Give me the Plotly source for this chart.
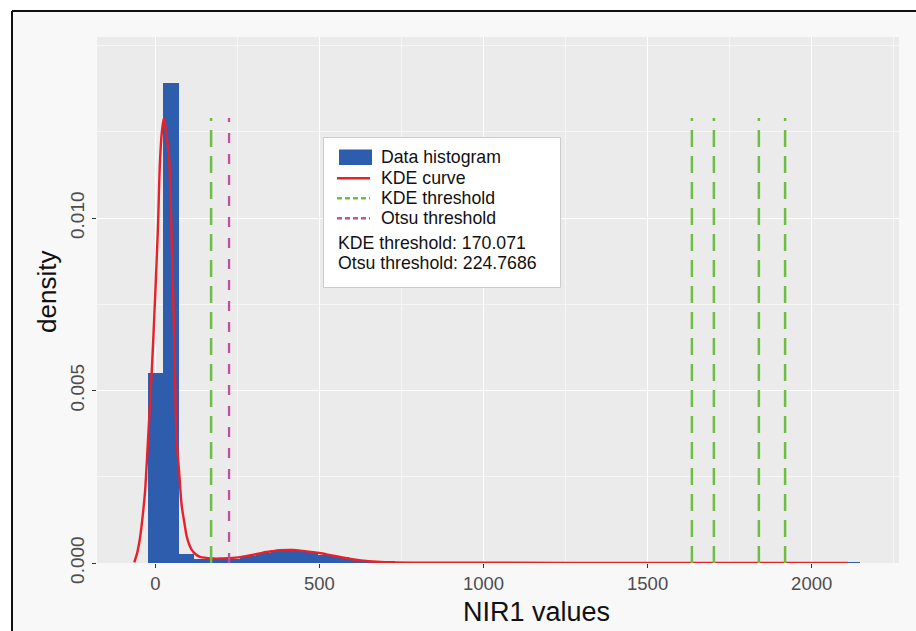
import numpy as np
import plotly.graph_objects as go

# ---------------- data ----------------
bin_width = 47.2
hist_density = [
    0.0055, 0.01393, 0.00027, 0.00013, 0.00011, 0.00013, 0.00019, 0.00028,
    0.00035, 0.00037, 0.00032, 0.00024, 0.00016, 0.00009, 0.00005, 0.00003,
    0.00002, 0.000016, 0.000013, 0.000011, 0.00001, 0.00001, 0.00001, 0.00001,
    0.00001, 0.00001, 0.00001, 0.00001, 0.00001, 0.00001, 0.00001, 0.00001,
    0.00001, 0.00001, 0.00001, 0.00001, 0.00001, 0.00001, 0.00001, 0.00001,
    0.00001, 0.00001, 0.00001, 0.00001, 0.00001, 0.00001,
]
bin_centers = [i * bin_width for i in range(len(hist_density))]

kde_x = [-64, -55, -46, -38, -31, -22, -10, -1, 8, 14, 20, 26, 32, 38, 43, 49, 55,
         60, 65, 73, 80, 88, 96, 104, 111, 122, 136, 155, 176, 200, 220, 259, 300,
         328, 355, 380, 420, 450, 500, 533, 570, 600, 650, 700, 800, 1000, 1500, 2000, 2110]
kde_y = [0.00002, 0.0003, 0.00076, 0.0014, 0.0021, 0.0036, 0.0057, 0.0076, 0.0097,
         0.01158, 0.0125, 0.0129, 0.0126, 0.0121, 0.0116, 0.0097, 0.0076,
         0.0055, 0.0036, 0.0026, 0.0017, 0.0012, 0.00076, 0.00052, 0.00038, 0.00026,
         0.00018, 0.00015, 0.00013, 0.00013, 0.00014, 0.00017, 0.00024,
         0.0003, 0.00034, 0.00037, 0.00038, 0.00035, 0.00029, 0.00023, 0.00016,
         0.00011, 0.00005, 0.00002, 0.00001, 0.000006, 0.000004, 0.000003, 0.000002]

kde_thresholds = [170.071, 1635, 1702, 1839, 1919]
otsu_threshold = 224.7686
line_top = 0.0129

x_range = [-177.6, 2266]
y_range = [0, 0.01525]
x_ticks = [0, 500, 1000, 1500, 2000]
y_ticks = [0.000, 0.005, 0.010]

legend_labels = ["Data histogram", "KDE curve", "KDE threshold", "Otsu threshold"]
info_lines = ["KDE threshold: 170.071", "Otsu threshold: 224.7686"]

# ---------------- styles ----------------
BLUE = "#2D5DAC"
RED = "#E8202A"
GREEN = "#6CBE45"
PURPLE = "#C2509C"
FONT = "Liberation Sans, Arial, sans-serif"

W, H = 916, 631
L, R, T, B = 97, 17, 37, 68
PW, PH = W - L - R, H - T - B


def px(xp):
    return (xp - L) / PW


def py(yp):
    return (H - B - yp) / PH


fig = go.Figure()

fig.add_trace(go.Bar(
    x=bin_centers, y=hist_density, width=bin_width,
    marker=dict(color=BLUE, line=dict(width=0)), showlegend=False,
))

fig.add_trace(go.Scatter(
    x=kde_x, y=kde_y, mode="lines", line=dict(color=RED, width=2.4, shape="spline", smoothing=0.8),
    showlegend=False,
))

for t in kde_thresholds:
    fig.add_trace(go.Scatter(
        x=[t, t], y=[0, line_top], mode="lines",
        line=dict(color=GREEN, width=2.5, dash="17px,9px"), showlegend=False,
    ))
fig.add_trace(go.Scatter(
    x=[otsu_threshold, otsu_threshold], y=[0, line_top], mode="lines",
    line=dict(color=PURPLE, width=2.3, dash="10px,11px"), showlegend=False,
))

shapes = []
annotations = []

# outer white strips and black frame
shapes.append(dict(type="rect", xref="paper", yref="paper", x0=px(-5), x1=px(12), y0=py(640), y1=py(-5),
                   fillcolor="white", line=dict(width=0), layer="below"))
shapes.append(dict(type="rect", xref="paper", yref="paper", x0=px(-5), x1=px(925), y0=py(11), y1=py(-5),
                   fillcolor="white", line=dict(width=0), layer="below"))
shapes.append(dict(type="line", xref="paper", yref="paper", x0=px(12), x1=px(925), y0=py(11), y1=py(11),
                   line=dict(color="#111111", width=2)))
shapes.append(dict(type="line", xref="paper", yref="paper", x0=px(12), x1=px(12), y0=py(11), y1=py(640),
                   line=dict(color="#111111", width=2)))

# legend box
shapes.append(dict(type="rect", xref="paper", yref="paper", x0=px(323.5), x1=px(560.5), y0=py(287.5), y1=py(137.5),
                   fillcolor="white", line=dict(color="#CCCCCC", width=1)))
# legend keys
shapes.append(dict(type="rect", xref="paper", yref="paper", x0=px(339), x1=px(372), y0=py(165), y1=py(149.5),
                   fillcolor=BLUE, line=dict(width=0)))
shapes.append(dict(type="line", xref="paper", yref="paper", x0=px(337), x1=px(370), y0=py(178.3), y1=py(178.3),
                   line=dict(color=RED, width=2.5)))
shapes.append(dict(type="line", xref="paper", yref="paper", x0=px(337), x1=px(370), y0=py(198.3), y1=py(198.3),
                   line=dict(color=GREEN, width=2.5, dash="5px,3px")))
shapes.append(dict(type="line", xref="paper", yref="paper", x0=px(337), x1=px(370), y0=py(218.3), y1=py(218.3),
                   line=dict(color=PURPLE, width=2.5, dash="5px,3px")))

for lab, yc in zip(legend_labels, [157, 178.3, 198.3, 218.3]):
    annotations.append(dict(text=lab, xref="paper", yref="paper", x=px(379), y=py(yc),
                            xanchor="left", yanchor="middle", showarrow=False,
                            font=dict(family=FONT, size=17.7, color="#111111")))
for lab, yc in zip(info_lines, [242.7, 263.3]):
    annotations.append(dict(text=lab, xref="paper", yref="paper", x=px(335.5), y=py(yc),
                            xanchor="left", yanchor="middle", showarrow=False,
                            font=dict(family=FONT, size=17.7, color="#111111")))

# axis titles
annotations.append(dict(text="NIR1 values", xref="paper", yref="paper", x=px(536), y=py(612),
                        xanchor="center", yanchor="middle", showarrow=False,
                        font=dict(family=FONT, size=27, color="#111111")))
annotations.append(dict(text="density", xref="paper", yref="paper", x=px(47), y=py(292),
                        xanchor="center", yanchor="middle", showarrow=False, textangle=-90,
                        font=dict(family=FONT, size=26, color="#111111")))

fig.update_layout(
    width=W, height=H,
    margin=dict(l=L, r=R, t=T, b=B, pad=0),
    paper_bgcolor="#F8F8F8",
    plot_bgcolor="#EBEBEB",
    shapes=shapes,
    annotations=annotations,
    bargap=0,
    showlegend=False,
)

fig.update_xaxes(
    range=x_range, tickvals=x_ticks, ticktext=[str(v) for v in x_ticks],
    showgrid=True, gridcolor="white", gridwidth=1.2,
    minor=dict(dtick=250, tick0=0, showgrid=True, gridcolor="#F6F6F6", gridwidth=0.6, ticks=""),
    ticks="outside", ticklen=4, tickcolor="#333333", tickwidth=1,
    tickfont=dict(family=FONT, size=18.5, color="#4D4D4D"),
    zeroline=False, showline=False,
)
fig.update_yaxes(
    range=y_range, tickvals=y_ticks, ticktext=[f"{v:.3f}" for v in y_ticks],
    tickangle=-90,
    showgrid=True, gridcolor="white", gridwidth=1.2,
    minor=dict(dtick=0.0025, tick0=0, showgrid=True, gridcolor="#F6F6F6", gridwidth=0.6, ticks=""),
    ticks="outside", ticklen=4, tickcolor="#333333", tickwidth=1,
    tickfont=dict(family=FONT, size=19, color="#4D4D4D"),
    zeroline=False, showline=False,
)

fig.write_html(
    "out.html",
    config={"displayModeBar": False},
    post_script="document.body.style.margin='0';document.body.style.overflow='hidden';",
)
